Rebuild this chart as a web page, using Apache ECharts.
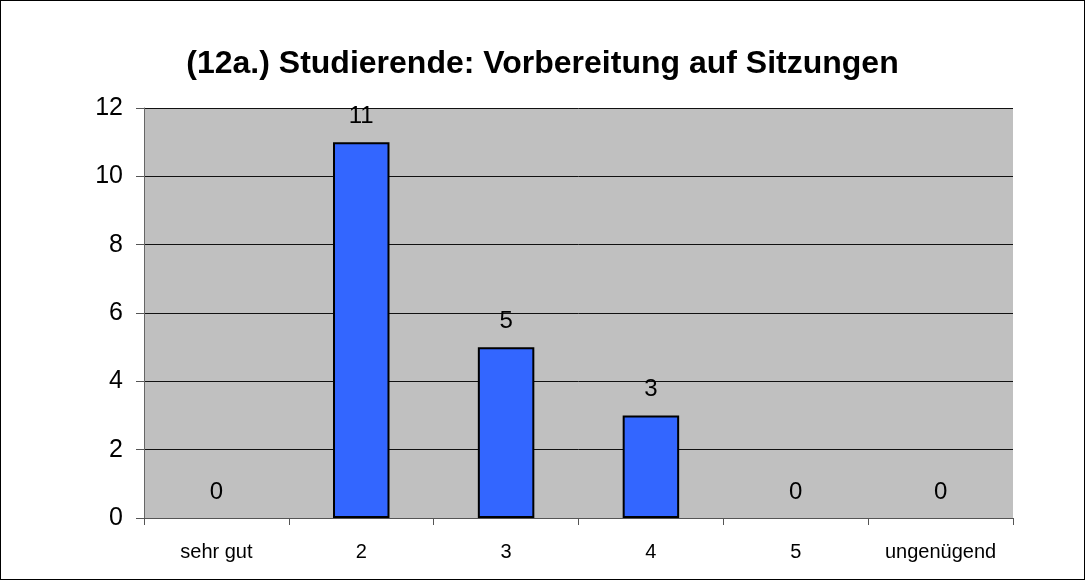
<!DOCTYPE html>
<html>
<head>
<meta charset="utf-8">
<script src="https://cdn.jsdelivr.net/npm/echarts@6/dist/echarts.min.js"></script>
<style>
  html, body { margin: 0; padding: 0; background: #fff; }
  #chart { width: 1083px; height: 578px; border: 1px solid #000; }
</style>
</head>
<body>
<div id="chart"></div>
<script>
// Daten
const categories = ["sehr gut", "2", "3", "4", "5", "ungenügend"];
const counts = [0, 11, 5, 3, 0, 0];
const yTicks = [0, 2, 4, 6, 8, 10, 12];

const chart = echarts.init(document.getElementById("chart"));
chart.setOption({
  animation: false,
  title: {
    text: "(12a.) Studierende: Vorbereitung auf Sitzungen",
    left: "center",
    top: 42,
    textStyle: { fontFamily: "Liberation Sans", fontWeight: "bold", fontSize: 32, color: "#000" },
  },
  grid: { left: 143, right: 71, top: 107, bottom: 61, backgroundColor: "#c0c0c0", show: true, borderWidth: 0 },
  xAxis: {
    type: "category",
    data: categories,
    axisLine: { lineStyle: { color: "#555", width: 1 } },
    axisTick: { show: true, length: 7, lineStyle: { color: "#555" } },
    axisLabel: { fontFamily: "Liberation Sans", fontSize: 20, color: "#000", margin: 24 },
  },
  yAxis: {
    type: "value",
    min: yTicks[0],
    max: yTicks[yTicks.length - 1],
    interval: 2,
    axisLine: { show: true, lineStyle: { color: "#666", width: 1 } },
    axisTick: { show: true, length: 8, lineStyle: { color: "#555" } },
    axisLabel: { fontFamily: "Liberation Sans", fontSize: 25, color: "#000", margin: 21 },
    splitLine: { lineStyle: { color: "#111", width: 1 } },
  },
  series: [
    {
      type: "bar",
      // Null-Balken ohne Rahmen, nur Beschriftung
      data: counts.map((v) => (v === 0 ? { value: v, itemStyle: { borderWidth: 0 } } : v)),
      barWidth: "39%",
      itemStyle: { color: "#3366ff", borderColor: "#000", borderWidth: 2 },
      label: {
        show: true,
        position: "top",
        distance: 14,
        fontFamily: "Liberation Sans",
        fontSize: 24,
        color: "#000",
      },
    },
  ],
});
</script>
</body>
</html>
